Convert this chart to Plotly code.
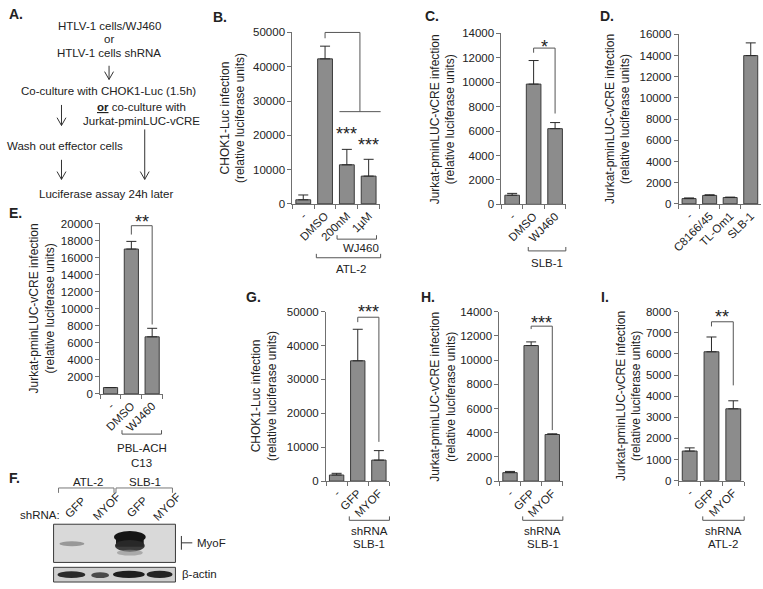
import plotly.graph_objects as go

W, H = 763, 589
FONT = "Arial, Liberation Sans, Helvetica, sans-serif"
TXT = "#222222"
AXC = "#707070"
BAR_FILL = "#8c8c8c"
BAR_LINE = "#3b3b3b"
BRK = "#555555"

# ---------------- data ----------------
b_categories = ["-", "DMSO", "200nM", "1µM"]
b_values = [1200, 42300, 11400, 8100]
b_errors = [1400, 3700, 4500, 4900]

c_categories = ["-", "DMSO", "WJ460"]
c_values = [750, 9850, 6200]
c_errors = [150, 1930, 500]

d_categories = ["-", "C8166/45", "TL-Om1", "SLB-1"]
d_values = [500, 800, 600, 14000]
d_errors = [60, 60, 40, 1200]

e_categories = ["-", "DMSO", "WJ460"]
e_values = [750, 17000, 6700]
e_errors = [0, 900, 1000]

g_categories = ["-", "GFP", "MYOF"]
g_values = [1800, 35500, 6200]
g_errors = [500, 9300, 2800]

h_categories = ["-", "GFP", "MYOF"]
h_values = [700, 11200, 3850]
h_errors = [100, 300, 60]

i_categories = ["-", "GFP", "MYOF"]
i_values = [1400, 6100, 3400]
i_errors = [150, 700, 380]

y_title_chok = "CHOK1-Luc infection<br>(relative luciferase units)"
y_title_jurkat = "Jurkat-pminLUC-vCRE infection<br>(relative luciferase units)"

# ---------------- layout config (pixel boxes: left, right, top, bottom) ----------------
panels = {
    "B": dict(cats=b_categories, vals=b_values, errs=b_errors, ymax=50000, dtick=10000,
              box=(288, 376, 27, 202), title=y_title_chok, title_x=228, letter=(206, 11)),
    "C": dict(cats=c_categories, vals=c_values, errs=c_errors, ymax=14000, dtick=2000,
              box=(499, 564, 28, 202.5), title=y_title_jurkat, title_x=439.5, letter=(420, 10)),
    "D": dict(cats=d_categories, vals=d_values, errs=d_errors, ymax=16000, dtick=2000,
              box=(678, 761, 29, 202), title=y_title_jurkat, title_x=616.5, letter=(596, 10)),
    "E": dict(cats=e_categories, vals=e_values, errs=e_errors, ymax=20000, dtick=2000,
              box=(94, 157, 222, 396), title=y_title_jurkat, title_x=35, letter=(0, 211)),
    "G": dict(cats=g_categories, vals=g_values, errs=g_errors, ymax=50000, dtick=10000,
              box=(322, 386, 312, 485), title=y_title_chok, title_x=260, letter=(239, 297)),
    "H": dict(cats=h_categories, vals=h_values, errs=h_errors, ymax=14000, dtick=2000,
              box=(497, 561, 312, 485), title=y_title_jurkat, title_x=440.5, letter=(416, 297)),
    "I": dict(cats=i_categories, vals=i_values, errs=i_errors, ymax=8000, dtick=1000,
              box=(678, 744, 312, 484.5), title=y_title_jurkat, title_x=627.5, letter=(597, 297)),
}

fig = go.Figure()
shapes, annotations = [], []


def px(x):
    return x / W


def py(y):
    return 1 - y / H


def add_line(x0, y0, x1, y1, color=BRK, width=1):
    shapes.append(dict(type="line", xref="paper", yref="paper", x0=px(x0), y0=py(y0),
                       x1=px(x1), y1=py(y1), line=dict(color=color, width=width)))


def add_path(pts, color=BRK, width=1):
    d = ""
    for k, (x, y) in enumerate(pts):
        d += ("M" if k == 0 else "L") + f"{px(x):.5f},{py(y):.5f} "
    shapes.append(dict(type="path", xref="paper", yref="paper", path=d.strip(),
                       line=dict(color=color, width=width)))


def add_text(x, y, s, size=11, bold=False, angle=0, xanchor="center", color=TXT):
    if bold:
        s = "<b>" + s + "</b>"
    annotations.append(dict(xref="paper", yref="paper", x=px(x), y=py(y), text=s,
                            showarrow=False, textangle=angle, xanchor=xanchor, yanchor="middle",
                            font=dict(size=size, family=FONT, color=color)))


def xpix(p, idx):
    x0, x1, _, _ = p["box"]
    return x0 + (idx + 0.5) / len(p["cats"]) * (x1 - x0)


def ypix(p, v):
    _, _, yt, yb = p["box"]
    return yb - v / p["ymax"] * (yb - yt)


axes_layout = {}
for k, (name, p) in enumerate(panels.items(), start=1):
    s = "" if k == 1 else str(k)
    x0, x1, yt, yb = p["box"]
    n = len(p["cats"])
    fig.add_trace(go.Bar(
        x=p["cats"], y=p["vals"], xaxis="x" + s, yaxis="y" + s, width=0.68,
        marker=dict(color=BAR_FILL, line=dict(color=BAR_LINE, width=1)),
        error_y=dict(type="data", array=p["errs"], arrayminus=[0] * n, symmetric=False,
                     color="#2a2a2a", thickness=1, width=5),
        showlegend=False, hoverinfo="skip"))
    axes_layout["xaxis" + s] = dict(
        domain=[px(x0), px(x1)], anchor="y" + s, type="category", range=[-0.5, n - 0.5],
        showline=True, linecolor=AXC, linewidth=1, ticks="outside", ticklen=4, tickcolor=AXC,
        tickson="boundaries", tickangle=-45, showgrid=False, zeroline=False, fixedrange=True,
        tickfont=dict(size=11.5, family=FONT, color=TXT))
    axes_layout["yaxis" + s] = dict(
        domain=[py(yb), py(yt)], anchor="x" + s, range=[0, p["ymax"]], dtick=p["dtick"],
        tickformat="d", showline=True, linecolor=AXC, linewidth=1, ticks="outside", ticklen=4,
        tickcolor=AXC, showgrid=False, zeroline=False, fixedrange=True,
        tickfont=dict(size=11.5, family=FONT, color=TXT))
    # y title
    add_text(p["title_x"], (yt + yb) / 2, p["title"], size=12, angle=-90)
    # panel letter
    lx, ly = p["letter"]
    add_text(lx, ly, name + ".", size=14, bold=True, xanchor="left")


def sig_bracket(p, i0, i1, top, left_end, right_end, stars, star_y_px):
    xa, xb = xpix(p, i0), xpix(p, i1)
    add_path([(xa, ypix(p, left_end)), (xa, ypix(p, top)), (xb, ypix(p, top)), (xb, ypix(p, right_end))])
    add_text((xa + xb) / 2, star_y_px + 4, stars, size=18)


def group_bracket(p, i0, i1, y, labels, y_text, dy=13):
    xa, xb = xpix(p, i0), xpix(p, i1)
    add_path([(xa, y - 4), (xa, y), (xb, y), (xb, y - 4)])
    for j, lab in enumerate(labels):
        add_text((xa + xb) / 2, y_text + j * dy, lab, size=11.5)


# --- B annotations
pB = panels["B"]
xr = xpix(pB, 2.6)
add_path([(xpix(pB, 1), ypix(pB, 48300)), (xpix(pB, 1), ypix(pB, 50000)), (xr, ypix(pB, 50000)),
          (xr, ypix(pB, 26900))])
add_line(xpix(pB, 1.66), ypix(pB, 26900), xpix(pB, 3.55), ypix(pB, 26900))
add_text(xpix(pB, 2), 127 + 4, "***", size=18)
add_text(xpix(pB, 3), 138 + 4, "***", size=18)
add_path([(xpix(pB, 1.55), 234), (xpix(pB, 1.55), 238), (xpix(pB, 3.36), 238), (xpix(pB, 3.36), 234)])
add_text(357, 247, "WJ460", size=11.5)
add_path([(xpix(pB, 0.6), 253), (xpix(pB, 0.6), 257), (xpix(pB, 3.55), 257), (xpix(pB, 3.55), 253)])
add_text(347, 268, "ATL-2", size=11.5)

# --- C
pC = panels["C"]
sig_bracket(pC, 1, 2, 12800, 12420, 7440, "*", 38)
group_bracket(pC, 0.75, 2.5, 250, ["SLB-1"], 262)

# --- E
pE = panels["E"]
sig_bracket(pE, 1, 2, 19740, 18700, 8150, "**", 216.7)
group_bracket(pE, 0.55, 2.45, 437, ["PBL-ACH", "C13"], 451, dy=15)

# --- G, H, I
pG, pH, pI = panels["G"], panels["H"], panels["I"]
sig_bracket(pG, 1, 2, 48350, 46900, 11580, "***", 308)
sig_bracket(pH, 1, 2, 12800, 12560, 4215, "***", 320)
sig_bracket(pI, 1, 2, 7520, 7300, 4510, "**", 313)
group_bracket(pG, 0.6, 2.5, 525, ["shRNA", "SLB-1"], 536)
group_bracket(pH, 0.6, 2.5, 525, ["shRNA", "SLB-1"], 536)
group_bracket(pI, 0.6, 2.5, 525, ["shRNA", "ATL-2"], 536)

# ---------------- Panel A (flow diagram) ----------------
add_text(0, 8, "A.", size=14, bold=True, xanchor="left")
A_SIZE = 11.5
add_text(103, 20, "HTLV-1 cells/WJ460", size=A_SIZE)
add_text(103, 34, "or", size=A_SIZE)
add_text(103, 48, "HTLV-1 cells shRNA", size=A_SIZE)
add_text(102, 87, "Co-culture with CHOK1-Luc (1.5h)", size=A_SIZE)
add_text(136, 103, "<b><u>or</u></b> co-culture with", size=A_SIZE)
add_text(136, 117, "Jurkat-pminLUC-vCRE", size=A_SIZE)
add_text(59, 143, "Wash out effector cells", size=A_SIZE)
add_text(100, 192, "Luciferase assay 24h later", size=A_SIZE)


def arrow(x, y0, y1):
    add_line(x, y0, x, y1, color="#333333")
    add_path([(x - 4.5, y1 - 8), (x, y1), (x + 4.5, y1 - 8)], color="#333333")


arrow(103, 61, 75)
arrow(55, 101, 122)
arrow(55, 157, 177)
arrow(139, 126, 177)

# ---------------- Panel F (western blot) ----------------
add_text(0, 482, "F.", size=14, bold=True, xanchor="left")
add_text(82, 486, "ATL-2", size=11.5)
add_text(139, 486, "SLB-1", size=11.5)
add_path([(52, 497), (52, 492), (108, 492), (108, 497)], color="#777777")
add_path([(110, 497), (110, 492), (167, 492), (167, 497)], color="#777777")
add_text(11, 520, "shRNA:", size=11.5, xanchor="left")
for lx, lab in [(69, "GFP"), (100, "MYOF"), (131, "GFP"), (161, "MYOF")]:
    add_text(lx, 511, lab, size=11.5, angle=-45)


def rect(x0, y0, x1, y1, fill, line_color=None, opacity=1.0):
    shapes.append(dict(type="rect", xref="paper", yref="paper", x0=px(x0), y0=py(y0),
                       x1=px(x1), y1=py(y1), fillcolor=fill, opacity=opacity,
                       line=dict(color=line_color or fill, width=1 if line_color else 0)))


def blob(x0, y0, x1, y1, fill, opacity=1.0):
    shapes.append(dict(type="circle", xref="paper", yref="paper", x0=px(x0), y0=py(y0),
                       x1=px(x1), y1=py(y1), fillcolor=fill, opacity=opacity, line=dict(width=0)))


rect(47, 529, 170, 568, "#d9d9d9", "#3a3a3a")
blob(53, 546.5, 78, 551.5, "#909090", 0.9)
rect(110, 540, 138, 552, "#1a1a1a")
blob(108, 536, 140, 548, "#151515")
blob(109, 545, 139, 557, "#2a2a2a", 0.9)
blob(111, 555, 137, 561, "#8a8a8a", 0.6)
rect(47, 573, 170, 588, "#cfcfcf", "#3a3a3a")
blob(51, 577, 79, 584, "#2a2a2a")
blob(85, 578, 103, 584, "#4a4a4a")
blob(107, 576.5, 139, 584, "#1e1e1e")
blob(141, 576.5, 167, 584, "#242424")
add_line(176, 541, 176, 555, color="#333333")
add_line(176, 548, 187, 548, color="#333333")
add_text(190, 548, "MyoF", size=11.5, xanchor="left")
add_text(175, 580, "β-actin", size=11.5, xanchor="left")

fig.update_layout(
    width=W, height=H, margin=dict(l=0, r=0, t=0, b=0),
    paper_bgcolor="white", plot_bgcolor="rgba(0,0,0,0)",
    shapes=shapes, annotations=annotations, showlegend=False,
    font=dict(family=FONT, color=TXT), bargap=0.32,
    **axes_layout)

fig.write_html("out.html", config={"displayModeBar": False},
               post_script="document.body.style.margin='0';document.body.style.overflow='hidden';")
